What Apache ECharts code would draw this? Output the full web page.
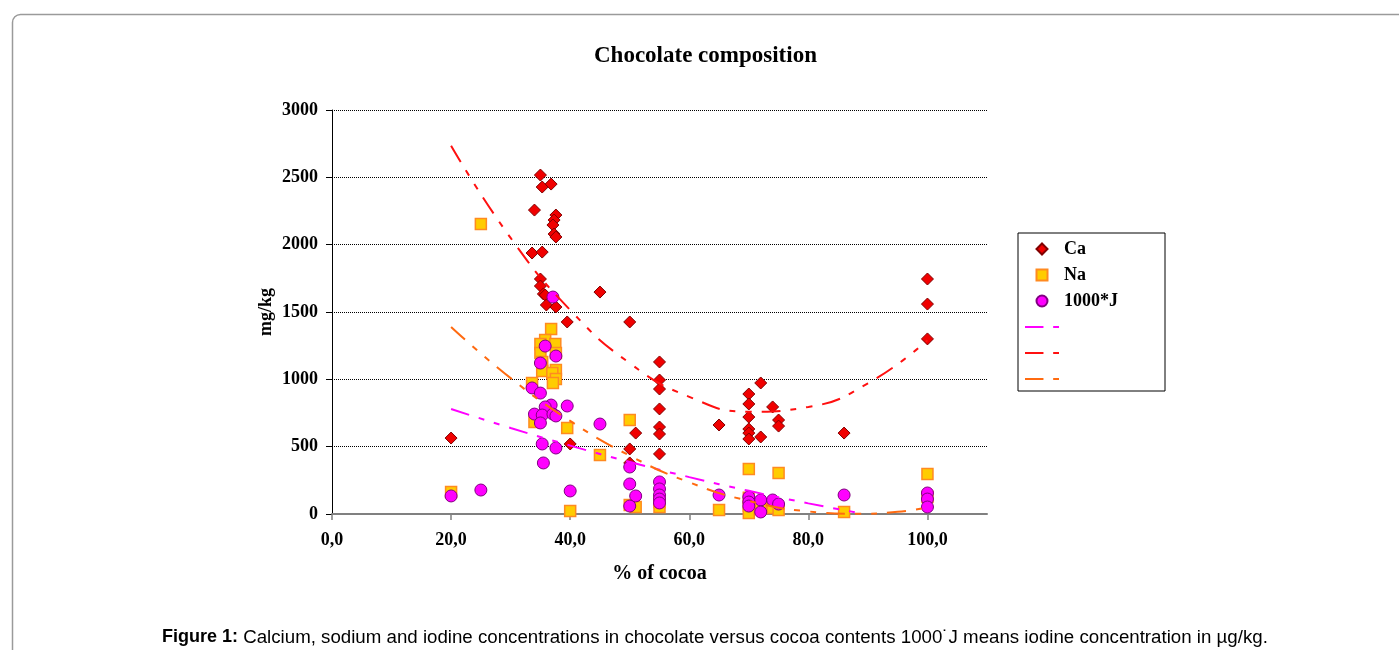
<!DOCTYPE html>
<html>
<head>
<meta charset="utf-8">
<script src="https://cdn.jsdelivr.net/npm/echarts@6/dist/echarts.min.js"></script>
<style>
html,body{margin:0;padding:0;background:#fff;}
#chart{width:1399px;height:650px;}
</style>
</head>
<body>
<div id="chart"></div>
<script>
// ---- data ----
const caX = [20,34,35,35.3,36.8,37.6,37.3,37.1,37.3,37.6,33.6,35.3,35,35,35.5,35.8,36,37.6,39.5,45,40,50,50,50,51,55,55,55,55,55,55,55,65,70,70,70,70,70,70,72,72,74,75,75,86,100,100,100];
const caY = [564,2257,2517,2428,2450,2220,2183,2146,2079,2057,1938,1945,1745,1693,1634,1626,1552,1537,1426,1648,520,1426,483,379,601,1129,995,928,780,646,594,446,661,891,817,720,631,601,557,973,572,795,698,653,601,1745,1559,1300];

const naX = [20,25,36.8,35.8,35,37.5,35,37.6,35.3,35.3,37.6,37,37.6,37.1,33.6,34,39.5,40,45,50,50,51,55,55,65,70,70,70,70,72,74,75,75,86,100,100];
const naY = [163,2153,1374,1292,1262,1262,1195,1195,1128,1062,1069,1047,1002,973,973,683,639,22,438,698,67,52,52,90,30,334,120,60,7,40,45,304,30,15,297,126];

const jX = [20,25,37.1,35.8,37.6,35,33.6,35,36.8,35.8,39.5,34,35.3,37.1,37.6,35,45,35.3,37.6,35.5,40,50,50,51,50,55,55,55,55,55,65,70,70,70,72,72,74,75,86,100,100,100];
const jY = [134,178,1611,1247,1173,1121,936,898,809,795,802,742,735,742,728,676,668,520,490,379,171,349,223,134,59,238,186,141,111,82,141,126,89,59,104,15,104,74,141,156,111,52];

// trend curves, values
const caTrendX = [20,30,40,50,60,70,80,90,100];
const caTrendY = [2735,2050,1515,1120,870,760,795,970,1290];
const naTrendX = [20,30,40,50,60,70,80,88,95,100];
const naTrendY = [1389,1009,691,433,235,97,19,2,16,50];
const jTrendX = [20,30,40,50,60,70,80,88];
const jTrendY = [780,639,508,386,274,172,79,12];

const xTicks = [0,20,40,60,80,100];
const seriesNames = ['Ca','Na','1000*J'];
const trendNames = ['\u200b','\u200b\u200b','\u200b\u200b\u200b']; // J, Ca, Na trend (unlabelled in legend)

const pairs = (xs, ys) => xs.map((x, i) => [x, ys[i]]);
const SERIF = 'Liberation Serif';
const dash = [19, 10, 6, 10, 6, 10];
const dashIcon = 'path://M0,0H19V2.2H0Z M29,0H35V2.2H29Z';

const chart = echarts.init(document.getElementById('chart'), null, {renderer: 'canvas'});
chart.setOption({
  animation: false,
  backgroundColor: '#fff',
  title: {
    text: 'Chocolate composition',
    left: 589, top: 40,
    textStyle: {fontFamily: SERIF, fontWeight: 'bold', fontSize: 23, color: '#000'}
  },
  grid: {left: 332, right: 412, top: 110, bottom: 136, containLabel: false},
  legend: {
    orient: 'vertical',
    left: 1018, top: 233,
    padding: [7, 47, 3, 7],
    borderColor: '#000', borderWidth: 1,
    itemWidth: 34, itemHeight: 11, itemGap: 8,
    symbolKeepAspect: true,
    textStyle: {fontFamily: SERIF, fontWeight: 'bold', fontSize: 18, color: '#000', lineHeight: 18},
    data: [
      {name: seriesNames[0], icon: 'path://M5,0L10,5L5,10L0,5Z'},
      {name: seriesNames[1], icon: 'path://M0,0H10V10H0Z'},
      {name: seriesNames[2], icon: 'circle'},
      {name: trendNames[0], icon: dashIcon},
      {name: trendNames[1], icon: dashIcon},
      {name: trendNames[2], icon: dashIcon}
    ]
  },
  xAxis: {
    type: 'value', min: 0, max: 110, interval: 20,
    name: '% of cocoa', nameLocation: 'middle', nameGap: 50,
    nameTextStyle: {fontFamily: SERIF, fontWeight: 'bold', fontSize: 20, color: '#000'},
    axisLine: {lineStyle: {color: '#808080', width: 2}},
    axisTick: {show: true, length: 6, lineStyle: {color: '#808080', width: 1.5}, customValues: xTicks},
    axisLabel: {
      margin: 17, color: '#000', fontFamily: SERIF, fontWeight: 'bold', fontSize: 18,
      customValues: xTicks,
      formatter: v => (v > 100 ? '' : v.toFixed(1).replace('.', ','))
    },
    splitLine: {show: false}
  },
  yAxis: {
    type: 'value', min: 0, max: 3000, interval: 500,
    name: 'mg/kg', nameLocation: 'middle', nameGap: 57,
    nameTextStyle: {fontFamily: SERIF, fontWeight: 'bold', fontSize: 18, color: '#000'},
    axisLine: {show: true, lineStyle: {color: '#000', width: 1}},
    axisTick: {show: true, length: 6, lineStyle: {color: '#000'}},
    axisLabel: {margin: 14, color: '#000', fontFamily: SERIF, fontWeight: 'bold', fontSize: 18,
      formatter: v => String(v)},
    splitLine: {show: true, lineStyle: {color: '#000', type: 'dotted', width: 1}}
  },
  series: [
    {
      name: seriesNames[0], type: 'scatter', symbol: 'diamond', symbolSize: 12,
      itemStyle: {color: '#F00000', borderColor: '#800000', borderWidth: 1, opacity: 1},
      emphasis: {disabled: true}, z: 2,
      data: pairs(caX, caY)
    },
    {
      name: seriesNames[1], type: 'scatter', symbol: 'rect', symbolSize: 11,
      itemStyle: {color: '#FFCC00', borderColor: '#FF8A20', borderWidth: 1.5, opacity: 1},
      emphasis: {disabled: true}, z: 3,
      data: pairs(naX, naY)
    },
    {
      name: seriesNames[2], type: 'scatter', symbol: 'circle', symbolSize: 12,
      itemStyle: {color: '#FF00FF', borderColor: '#800080', borderWidth: 1, opacity: 1},
      emphasis: {disabled: true}, z: 4,
      data: pairs(jX, jY)
    },
    {
      name: trendNames[0], type: 'line', smooth: true, symbol: 'none', z: 5,
      lineStyle: {color: '#FF00FF', width: 2, type: dash},
      itemStyle: {color: '#FF00FF'},
      emphasis: {disabled: true},
      data: pairs(jTrendX, jTrendY)
    },
    {
      name: trendNames[1], type: 'line', smooth: true, symbol: 'none', z: 5,
      lineStyle: {color: '#FF1010', width: 2, type: dash},
      itemStyle: {color: '#FF1010'},
      emphasis: {disabled: true},
      data: pairs(caTrendX, caTrendY)
    },
    {
      name: trendNames[2], type: 'line', smooth: true, symbol: 'none', z: 5,
      lineStyle: {color: '#FF6A10', width: 2, type: dash},
      itemStyle: {color: '#FF6A10'},
      emphasis: {disabled: true},
      data: pairs(naTrendX, naTrendY)
    }
  ],
  graphic: [
    {
      type: 'rect', silent: true, z: -1,
      shape: {x: 12.5, y: 14.5, width: 1420, height: 700, r: 8},
      style: {fill: 'none', stroke: '#9a9a9a', lineWidth: 1.5}
    },
    {
      type: 'text', left: 162, top: 628, silent: true,
      style: {
        text: '{b|Figure 1:} Calcium, sodium and iodine concentrations in chocolate versus cocoa contents 1000˙J means iodine concentration in µg/kg.',
        rich: {b: {fontFamily: 'Liberation Sans', fontWeight: 'bold', fontSize: 18, fill: '#000'}},
        fontFamily: 'Liberation Sans', fontSize: 18.7, fill: '#000'
      }
    }
  ]
});
</script>
</body>
</html>
